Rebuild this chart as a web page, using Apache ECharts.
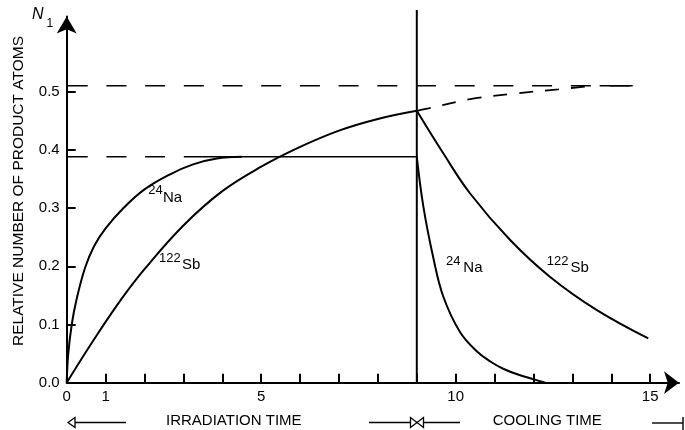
<!DOCTYPE html>
<html>
<head>
<meta charset="utf-8">
<script src="https://cdn.jsdelivr.net/npm/echarts@6/dist/echarts.min.js"></script>
<style>
html,body{margin:0;padding:0;background:#fff;}
#chart{width:685px;height:430px;}
</style>
</head>
<body>
<div id="chart"></div>
<script>
// ---- Data ----
const xTickValues = [0,1,2,3,4,5,6,7,8,9,10,11,12,13,14,15];
const xLabelValues = [0,1,5,10,15];
const yTickValues = [0,0.1,0.2,0.3,0.4,0.5];

const irradiationEnd = 9;
const naSaturation = 0.388;
const sbSaturation = 0.51;
const naSatSolidStart = 3.5;
const sbSatLineEnd = 14.55;
const sbSatSolidStart = 13.7;

// 24Na during irradiation
const naIrrT = [0, 0.04, 0.13, 0.25, 0.47, 0.7, 1.0, 1.46, 2.0, 2.66, 3.25, 3.86, 4.5];
const naIrrV = [0, 0.05, 0.1, 0.142, 0.197, 0.234, 0.265, 0.3, 0.332, 0.358, 0.375, 0.385, 0.388];
// 122Sb during irradiation
const sbIrrT = [0, 0.68, 1.4, 2.0, 3.0, 4.0, 5.0, 6.0, 7.0, 8.0, 9];
const sbIrrV = [0, 0.072, 0.143, 0.195, 0.27, 0.329, 0.371, 0.405, 0.433, 0.453, 0.467];
// 122Sb cooling
const sbCoolT = [9, 9.68, 10.37, 11.4, 12.42, 13.62, 14.95];
const sbCoolV = [0.467, 0.394, 0.325, 0.245, 0.182, 0.125, 0.076];
// 24Na cooling
const naCoolT = [9, 9.17, 9.42, 9.68, 10.11, 10.54, 10.9, 11.22, 11.6, 12.0, 12.3];
const naCoolV = [0.388, 0.302, 0.216, 0.148, 0.087, 0.054, 0.036, 0.024, 0.014, 0.006, 0];
// 122Sb continued irradiation (dashed)
const sbContT = [9, 9.3, 10.37, 11.57, 12.64, 13.5];
const sbContV = [0.467, 0.471, 0.487, 0.497, 0.504, 0.51];

const zip = (a, b) => a.map((v, i) => [v, b[i]]);

const FONT = '"Liberation Sans", Arial, Helvetica, sans-serif';
const chart = echarts.init(document.getElementById('chart'), null, {renderer: 'canvas'});

const black = '#000';
const curve = (data, extra) => Object.assign({
  type: 'line', data: data, symbol: 'none', smooth: 0.4,
  lineStyle: {color: black, width: 2}, silent: true, z: 3
}, extra || {});

const option = {
  animation: false,
  backgroundColor: '#fff',
  grid: {left: 66.7, top: 16.5, right: 6, bottom: 47.3, containLabel: false},
  xAxis: {
    type: 'value', min: 0, max: 15.74,
    axisLine: {show: true, symbol: ['none', 'arrow'], symbolSize: [17, 15],
      lineStyle: {color: black, width: 2}},
    axisTick: {show: true, inside: true, length: 9, customValues: xTickValues,
      lineStyle: {color: black, width: 2}},
    axisLabel: {show: true, customValues: xLabelValues, margin: 7,
      color: black, fontFamily: FONT, fontSize: 15},
    splitLine: {show: false}
  },
  yAxis: {
    type: 'value', min: 0, max: 0.629,
    axisLine: {show: true, symbol: ['none', 'arrow'], symbolSize: [15, 17],
      lineStyle: {color: black, width: 2}},
    axisTick: {show: true, inside: true, length: 9, customValues: yTickValues,
      lineStyle: {color: black, width: 2}},
    axisLabel: {show: true, customValues: yTickValues, margin: 7,
      color: black, fontFamily: FONT, fontSize: 15,
      formatter: v => v.toFixed(1)},
    splitLine: {show: false}
  },
  series: [
    // saturation reference lines
    curve([[0, sbSaturation], [sbSatLineEnd, sbSaturation]],
      {smooth: false, lineStyle: {color: black, width: 1.6, type: [20, 18.7], dashOffset: -1}}),
    curve([[sbSatSolidStart, sbSaturation], [sbSatLineEnd, sbSaturation]],
      {smooth: false, lineStyle: {color: black, width: 1.6}}),
    curve([[0, naSaturation], [naSatSolidStart, naSaturation]],
      {smooth: false, lineStyle: {color: black, width: 1.6, type: [20, 18.7], dashOffset: -1}}),
    curve([[naSatSolidStart, naSaturation], [irradiationEnd, naSaturation]],
      {smooth: false, lineStyle: {color: black, width: 1.4}}),
    // end of irradiation
    curve([[irradiationEnd, 0], [irradiationEnd, 0.64]],
      {smooth: false, clip: false, lineStyle: {color: black, width: 2}}),
    // curves
    curve(zip(naIrrT, naIrrV)),
    curve(zip(sbIrrT, sbIrrV)),
    curve(zip(sbCoolT, sbCoolV)),
    curve(zip(naCoolT, naCoolV)),
    curve(zip(sbContT, sbContV), {lineStyle: {color: black, width: 1.8, type: [14, 12]}})
  ],
  graphic: [
    // y axis name
    {type: 'text', x: 19, y: 191, rotation: Math.PI / 2,
      style: {text: 'RELATIVE NUMBER OF PRODUCT ATOMS', fill: black, font: '15.5px ' + FONT,
        align: 'center', verticalAlign: 'middle'}},
    // N1
    {type: 'text', x: 32, y: 14.5, style: {text: 'N', fill: black, font: 'italic 16px ' + FONT,
      align: 'left', verticalAlign: 'middle'}},
    {type: 'text', x: 46.5, y: 24, style: {text: '1', fill: black, font: '12px ' + FONT,
      align: 'left', verticalAlign: 'middle'}},
    // isotope labels
    {type: 'text', x: 148.3, y: 190.5, style: {text: '24', fill: black, font: '13px ' + FONT, align: 'left', verticalAlign: 'middle'}},
    {type: 'text', x: 163, y: 197.8, style: {text: 'Na', fill: black, font: '15px ' + FONT, align: 'left', verticalAlign: 'middle'}},
    {type: 'text', x: 159, y: 258.5, style: {text: '122', fill: black, font: '13px ' + FONT, align: 'left', verticalAlign: 'middle'}},
    {type: 'text', x: 182, y: 265, style: {text: 'Sb', fill: black, font: '15px ' + FONT, align: 'left', verticalAlign: 'middle'}},
    {type: 'text', x: 446, y: 261.7, style: {text: '24', fill: black, font: '13px ' + FONT, align: 'left', verticalAlign: 'middle'}},
    {type: 'text', x: 463.3, y: 267.5, style: {text: 'Na', fill: black, font: '15px ' + FONT, align: 'left', verticalAlign: 'middle'}},
    {type: 'text', x: 546.7, y: 261.7, style: {text: '122', fill: black, font: '13px ' + FONT, align: 'left', verticalAlign: 'middle'}},
    {type: 'text', x: 570.5, y: 267.5, style: {text: 'Sb', fill: black, font: '15px ' + FONT, align: 'left', verticalAlign: 'middle'}},
    // time annotations
    {type: 'text', x: 166, y: 421, style: {text: 'IRRADIATION TIME', fill: black, font: '15px ' + FONT, align: 'left', verticalAlign: 'middle'}},
    {type: 'text', x: 492.7, y: 421, style: {text: 'COOLING TIME', fill: black, font: '15px ' + FONT, align: 'left', verticalAlign: 'middle'}},
    // left arrow
    {type: 'polygon', shape: {points: [[68, 422.5], [75, 417.5], [75, 427.5]]}, style: {fill: '#fff', stroke: black, lineWidth: 1.3}},
    {type: 'line', shape: {x1: 75, y1: 422.5, x2: 126, y2: 422.5}, style: {stroke: black, lineWidth: 1.4}},
    // middle arrows
    {type: 'line', shape: {x1: 369, y1: 422.5, x2: 411, y2: 422.5}, style: {stroke: black, lineWidth: 1.4}},
    {type: 'polygon', shape: {points: [[417, 422.5], [410.5, 417.5], [410.5, 427.5]]}, style: {fill: '#fff', stroke: black, lineWidth: 1.3}},
    {type: 'polygon', shape: {points: [[417, 422.5], [423.5, 417.5], [423.5, 427.5]]}, style: {fill: '#fff', stroke: black, lineWidth: 1.3}},
    {type: 'line', shape: {x1: 423.5, y1: 422.5, x2: 460, y2: 422.5}, style: {stroke: black, lineWidth: 1.4}},
    // right end
    {type: 'line', shape: {x1: 652, y1: 423, x2: 683, y2: 423}, style: {stroke: black, lineWidth: 1.4}},
    {type: 'line', shape: {x1: 683, y1: 417, x2: 683, y2: 430}, style: {stroke: black, lineWidth: 1.4}}
  ]
};
chart.setOption(option);
</script>
</body>
</html>
